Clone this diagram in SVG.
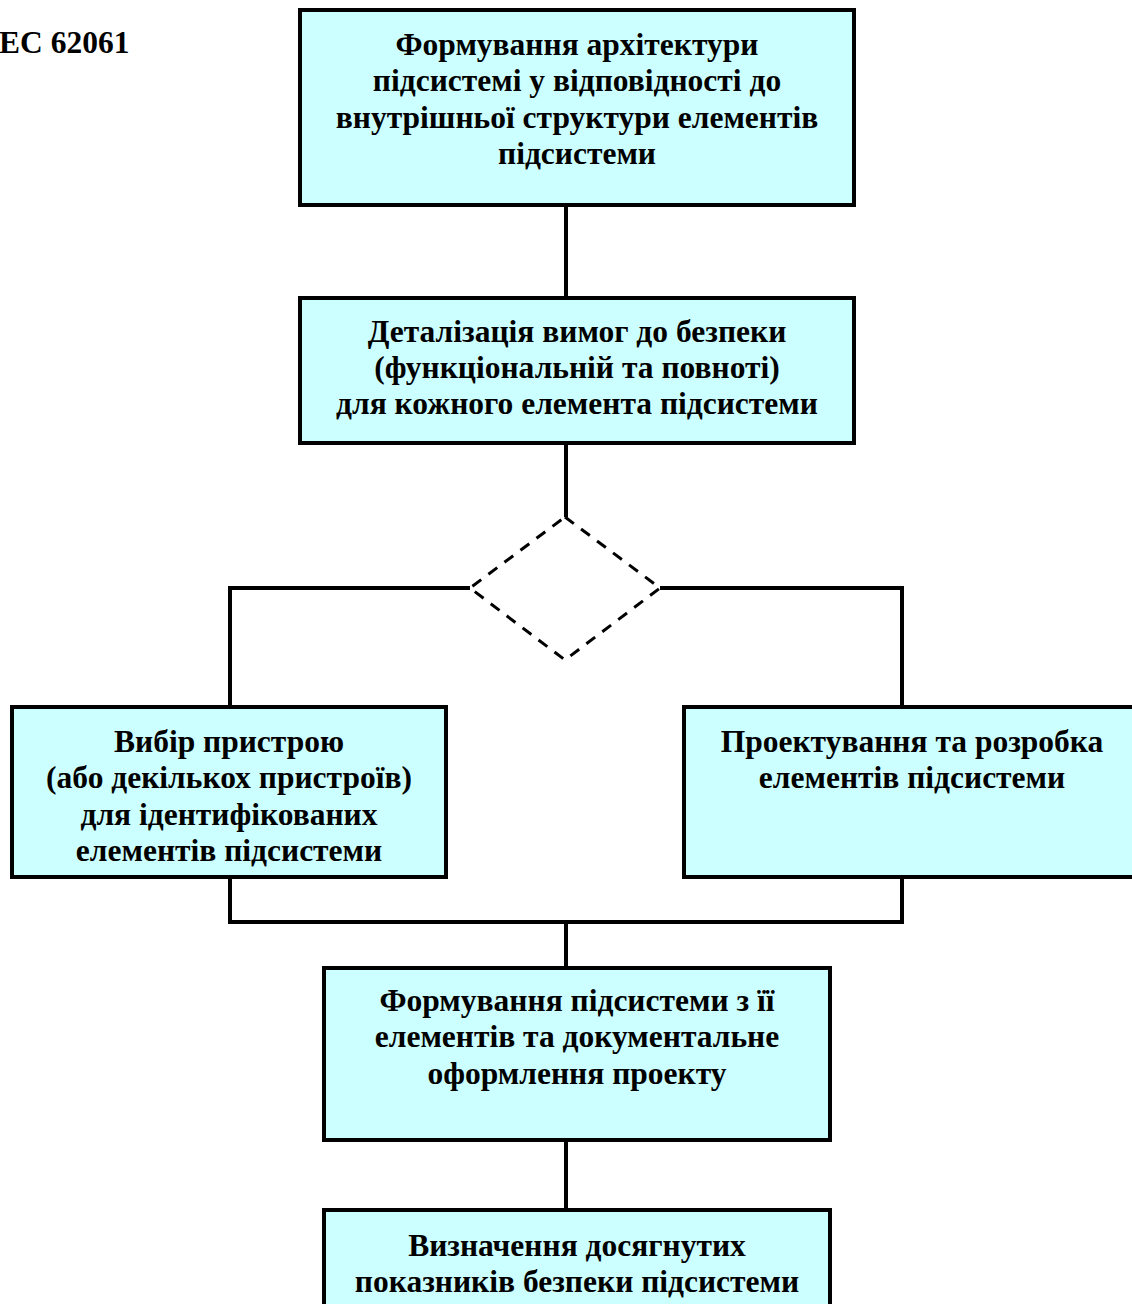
<svg xmlns="http://www.w3.org/2000/svg" width="1132" height="1304" viewBox="0 0 1132 1304">
<style>
.box{fill:#CCFFFF;stroke:#000;stroke-width:4}
.t{font-family:"Liberation Serif","Times New Roman",serif;font-weight:bold;font-size:31.5px;text-anchor:middle;fill:#000}
.c{fill:none;stroke:#000;stroke-width:4}
.d{fill:none;stroke:#000;stroke-width:3;stroke-dasharray:11 9}
</style>
<rect width="1132" height="1304" fill="#fff"/>
<text x="-1" y="53" font-family="Liberation Serif,serif" font-weight="bold" font-size="31.5" fill="#000">EC 62061</text>
<g id="connectors">
<path class="c" d="M566 205V298M566 443V517"/>
<path class="c" d="M470 588H230V707M660 588H902V707"/>
<path class="c" d="M230 877V922H902V877M566 922V968"/>
<path class="c" d="M566 1140V1210"/>
</g>
<g id="decision">
<path class="d" d="M565 517L660 588L565 660L470 588Z"/>
</g>
<g id="n1">
<rect class="box" x="300" y="10" width="554" height="195"/>
<text class="t" x="577" y="55">Формування архітектури</text>
<text class="t" x="577" y="91">підсистемі у відповідності до</text>
<text class="t" x="577" y="128">внутрішньої структури елементів</text>
<text class="t" x="577" y="164">підсистеми</text>
</g>
<g id="n2">
<rect class="box" x="300" y="298" width="554" height="145"/>
<text class="t" x="577" y="342">Деталізація вимог до безпеки</text>
<text class="t" x="577" y="378">(функціональній та повноті)</text>
<text class="t" x="577" y="414">для кожного елемента підсистеми</text>
</g>
<g id="n3">
<rect class="box" x="12" y="707" width="434" height="170"/>
<text class="t" x="229" y="752">Вибір пристрою</text>
<text class="t" x="229" y="788">(або декількох пристроїв)</text>
<text class="t" x="229" y="825">для ідентифікованих</text>
<text class="t" x="229" y="861">елементів підсистеми</text>
</g>
<g id="n4">
<rect class="box" x="684" y="707" width="452" height="170"/>
<text class="t" x="912" y="752">Проектування та розробка</text>
<text class="t" x="912" y="788">елементів підсистеми</text>
</g>
<g id="n5">
<rect class="box" x="324" y="968" width="506" height="172"/>
<text class="t" x="577" y="1011">Формування підсистеми з її</text>
<text class="t" x="577" y="1047">елементів та документальне</text>
<text class="t" x="577" y="1084">оформлення проекту</text>
</g>
<g id="n6">
<rect class="box" x="324" y="1210" width="506" height="100"/>
<text class="t" x="577" y="1256">Визначення досягнутих</text>
<text class="t" x="577" y="1292">показників безпеки підсистеми</text>
</g>
</svg>
